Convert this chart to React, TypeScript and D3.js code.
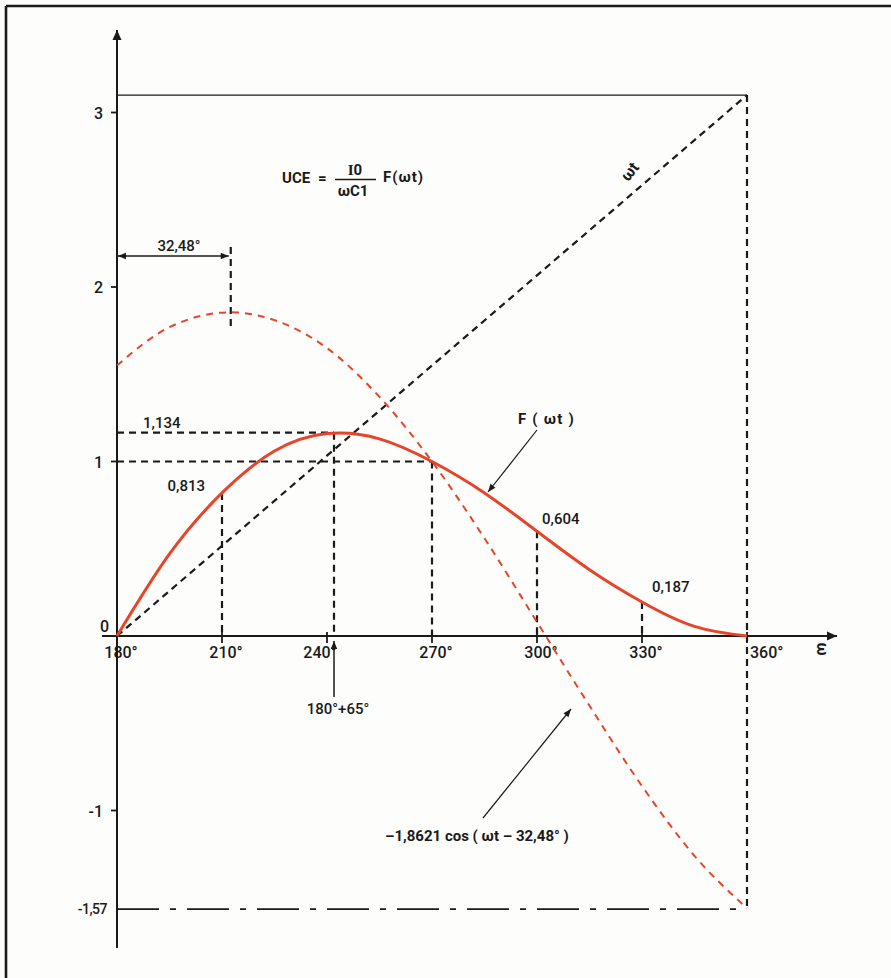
import React from 'react';
import * as d3 from 'd3';

// ---- data ----
const xTicks = [180, 210, 240, 270, 300, 330, 360];
const xTickLabels = ['180°', '210°', '240°', '270°', '300°', '330°', '360°'];
const yTicks = [3, 2, 1, -1];
const yTickLabels = ['3', '2', '1', '-1'];

// F(ωt) curve (solid red)
const fAngles = [180, 195, 210, 225, 240, 255, 270, 285, 300, 315, 330, 345, 360];
const fValues = [0, 0.47, 0.82, 1.06, 1.16, 1.13, 1.0, 0.82, 0.6, 0.38, 0.195, 0.055, 0];

// -1,8621 cos(ωt - 32,48°) (dashed red)
const cosAngles = [180, 195, 212.5, 225, 240, 255, 270, 285, 300, 315, 330, 345, 360];
const cosValues = [1.55, 1.77, 1.855, 1.81, 1.65, 1.37, 1.0, 0.56, 0.08, -0.4, -0.86, -1.26, -1.56];

// marked points on F(ωt)
const markAngles = [210, 270, 300, 330];
const markValues = [0.82, 1.0, 0.6, 0.195];
const markLabels = ['0,813', '', '0,604', '0,187'];

const peakAngle = 242;
const peakValue = 1.165;
const peakLabel = '1,134';
const peakAngleLabel = '180°+65°';
const phaseAngle = 212.5;
const phaseLabel = '32,48°';
const topValue = 3.1;
const bottomValue = -1.565;
const bottomLabel = '-1,57';

const RED = '#e4452b';
const INK = '#1a1a1a';
const FONT = 'Roboto, "Liberation Sans", Arial, sans-serif';

export default function App() {
  const x = d3.scaleLinear().domain([180, 360]).range([117, 747]);
  const y = d3.scaleLinear().domain([0, 1]).range([636, 461.5]);

  const fLine = d3
    .line<number>()
    .x((_, i) => x(fAngles[i]))
    .y((d) => y(d))
    .curve(d3.curveNatural);
  const cosLine = d3
    .line<number>()
    .x((_, i) => x(cosAngles[i]))
    .y((d) => y(d))
    .curve(d3.curveMonotoneX);

  const x0 = x(180);
  const xEnd = x(360);
  const y0 = y(0);
  const yTop = y(topValue);
  const yBot = y(bottomValue);
  const dash = '7 5';

  const tickLabelX = (i: number) => {
    if (i === 6) return x(xTicks[i]) + 3;
    if (i === 2) return x(xTicks[i]) - 7;
    return x(xTicks[i]) + 4;
  };

  return (
    <svg
      width={891}
      height={978}
      style={{ position: 'absolute', left: 0, top: 0, background: '#fdfdfb' }}
      fontFamily={FONT}
      fontWeight={500}
    >
      <defs>
        <marker id="ah" viewBox="0 0 10 10" refX="10" refY="5" markerWidth="10" markerHeight="8" orient="auto-start-reverse" markerUnits="userSpaceOnUse">
          <path d="M0,1 L10,5 L0,9 Z" fill={INK} />
        </marker>
        <marker id="ahBig" viewBox="0 0 10 10" refX="10" refY="5" markerWidth="16" markerHeight="10" orient="auto" markerUnits="userSpaceOnUse">
          <path d="M0,0.5 L10,5 L0,9.5 Z" fill={INK} />
        </marker>
      </defs>
      <rect x={0} y={0} width={891} height={978} fill="#fdfdfb" />

      {/* frame */}
      <line x1={6} y1={6} x2={891} y2={6} stroke={INK} strokeWidth={2.6} />
      <line x1={6} y1={6} x2={6} y2={978} stroke={INK} strokeWidth={2.6} />

      {/* top reference line and right vertical */}
      <line x1={x0} y1={yTop} x2={xEnd} y2={yTop} stroke={INK} strokeWidth={1.3} />
      <line x1={xEnd} y1={yTop} x2={xEnd} y2={yBot} stroke={INK} strokeWidth={2.2} strokeDasharray={dash} />
      {/* -1,57 dash-dot line */}
      <line x1={x0} y1={yBot} x2={xEnd} y2={yBot} stroke={INK} strokeWidth={1.8} strokeDasharray="42 11 6 11" />

      {/* diagonal ωt */}
      <line x1={x0} y1={y0} x2={xEnd} y2={yTop} stroke={INK} strokeWidth={2.2} strokeDasharray={dash} />
      <text
        transform={`translate(${634},${175}) rotate(-52)`}
        fontSize={16}
        fontWeight={700}
        textAnchor="middle"
        fill={INK}
      >
        ωt
      </text>

      {/* axes */}
      <line x1={x0} y1={948} x2={x0} y2={30} stroke={INK} strokeWidth={2} markerEnd="url(#ahBig)" />
      <line x1={102} y1={y0} x2={837} y2={y0} stroke={INK} strokeWidth={1.8} markerEnd="url(#ahBig)" />
      <text transform={`translate(${821},${649}) rotate(90)`} fontSize={16} fontWeight={700} textAnchor="middle" dominantBaseline="middle" fill={INK}>
        ω
      </text>

      {/* y ticks */}
      {yTicks.map((t, i) => (
        <g key={'yt' + i}>
          <line x1={x0 - 6} y1={y(t)} x2={x0} y2={y(t)} stroke={INK} strokeWidth={1.8} />
          <text x={x0 - 14} y={y(t) + 6} fontSize={16} textAnchor="end" fill={INK}>
            {yTickLabels[i]}
          </text>
        </g>
      ))}
      <text x={109} y={y0 - 4} fontSize={16} textAnchor="end" fill={INK}>0</text>
      <text x={107} y={yBot + 5} fontSize={14} textAnchor="end" fill={INK} letterSpacing={-0.5}>{bottomLabel}</text>

      {/* x ticks */}
      {xTicks.map((t, i) => (
        <g key={'xt' + i}>
          {i > 0 && <line x1={x(t)} y1={y0 - 4} x2={x(t)} y2={y0 + 7} stroke={INK} strokeWidth={1.8} />}
          <text x={tickLabelX(i)} y={y0 + 22} fontSize={16} textAnchor={i === 6 ? 'start' : 'middle'} fill={INK}>
            {xTickLabels[i]}
          </text>
        </g>
      ))}

      {/* horizontal guides */}
      <line x1={x0} y1={y(1)} x2={x(270)} y2={y(1)} stroke={INK} strokeWidth={2.2} strokeDasharray={dash} />
      <line x1={x0} y1={y(peakValue)} x2={x(peakAngle)} y2={y(peakValue)} stroke={INK} strokeWidth={2.2} strokeDasharray={dash} />
      <text x={143} y={428} fontSize={15} fill={INK}>{peakLabel}</text>

      {/* vertical guides */}
      {markAngles.map((a, i) => (
        <line key={'mk' + i} x1={x(a)} y1={y(markValues[i])} x2={x(a)} y2={y0} stroke={INK} strokeWidth={2.2} strokeDasharray={dash} />
      ))}
      <text x={x(markAngles[0]) - 17} y={y(markValues[0]) - 2} fontSize={15} textAnchor="end" fill={INK}>{markLabels[0]}</text>
      <text x={x(markAngles[2]) + 5} y={y(markValues[2]) - 7} fontSize={15} fill={INK}>{markLabels[2]}</text>
      <text x={x(markAngles[3]) + 10} y={y(markValues[3]) - 10} fontSize={15} fill={INK}>{markLabels[3]}</text>

      <line x1={x(peakAngle)} y1={y(peakValue)} x2={x(peakAngle)} y2={y0} stroke={INK} strokeWidth={2.2} strokeDasharray={dash} />
      <line x1={x(peakAngle)} y1={697} x2={x(peakAngle)} y2={641} stroke={INK} strokeWidth={1.5} markerEnd="url(#ah)" />
      <text x={x(peakAngle) + 4} y={714} fontSize={15} textAnchor="middle" fill={INK}>{peakAngleLabel}</text>

      {/* phase dimension */}
      <line x1={x(phaseAngle)} y1={247} x2={x(phaseAngle)} y2={327} stroke={INK} strokeWidth={2.2} strokeDasharray={dash} />
      <line x1={x0 + 1} y1={256} x2={x(phaseAngle) - 2} y2={256} stroke={INK} strokeWidth={1.3} markerStart="url(#ah)" markerEnd="url(#ah)" />
      <text x={179} y={251} fontSize={15} textAnchor="middle" fill={INK}>{phaseLabel}</text>

      {/* curves */}
      <path d={cosLine(cosValues) || ''} fill="none" stroke={RED} strokeWidth={2} strokeDasharray="7 6" />
      <path d={fLine(fValues) || ''} fill="none" stroke={RED} strokeWidth={3} />

      {/* formula */}
      <g fill={INK} fontSize={15} fontWeight={700}>
        <text x={282} y={183}>UCE</text>
        <text x={318} y={183}>=</text>
        <line x1={335} y1={179.5} x2={376} y2={179.5} stroke={INK} strokeWidth={1.3} />
        <text x={355} y={175} textAnchor="middle">
          <tspan fontFamily='"Liberation Serif", serif'>I</tspan>0
        </text>
        <text x={353} y={196} textAnchor="middle">ωC1</text>
        <text x={383} y={182} letterSpacing={1}>F(ωt)</text>
      </g>

      {/* F(ωt) label + arrow */}
      <text x={518} y={424} fontSize={15} fontWeight={700} letterSpacing={1.2} fill={INK}>F ( ωt )</text>
      <line x1={537} y1={430} x2={488} y2={492} stroke={INK} strokeWidth={1.2} markerEnd="url(#ah)" />

      {/* cos label + arrow */}
      <text x={385} y={841} fontSize={15} fill={INK} fontWeight={700}>
        –1,8621 cos ( ωt – 32,48° )
      </text>
      <line x1={483} y1={818} x2={571} y2={709} stroke={INK} strokeWidth={1.2} markerEnd="url(#ah)" />
    </svg>
  );
}
